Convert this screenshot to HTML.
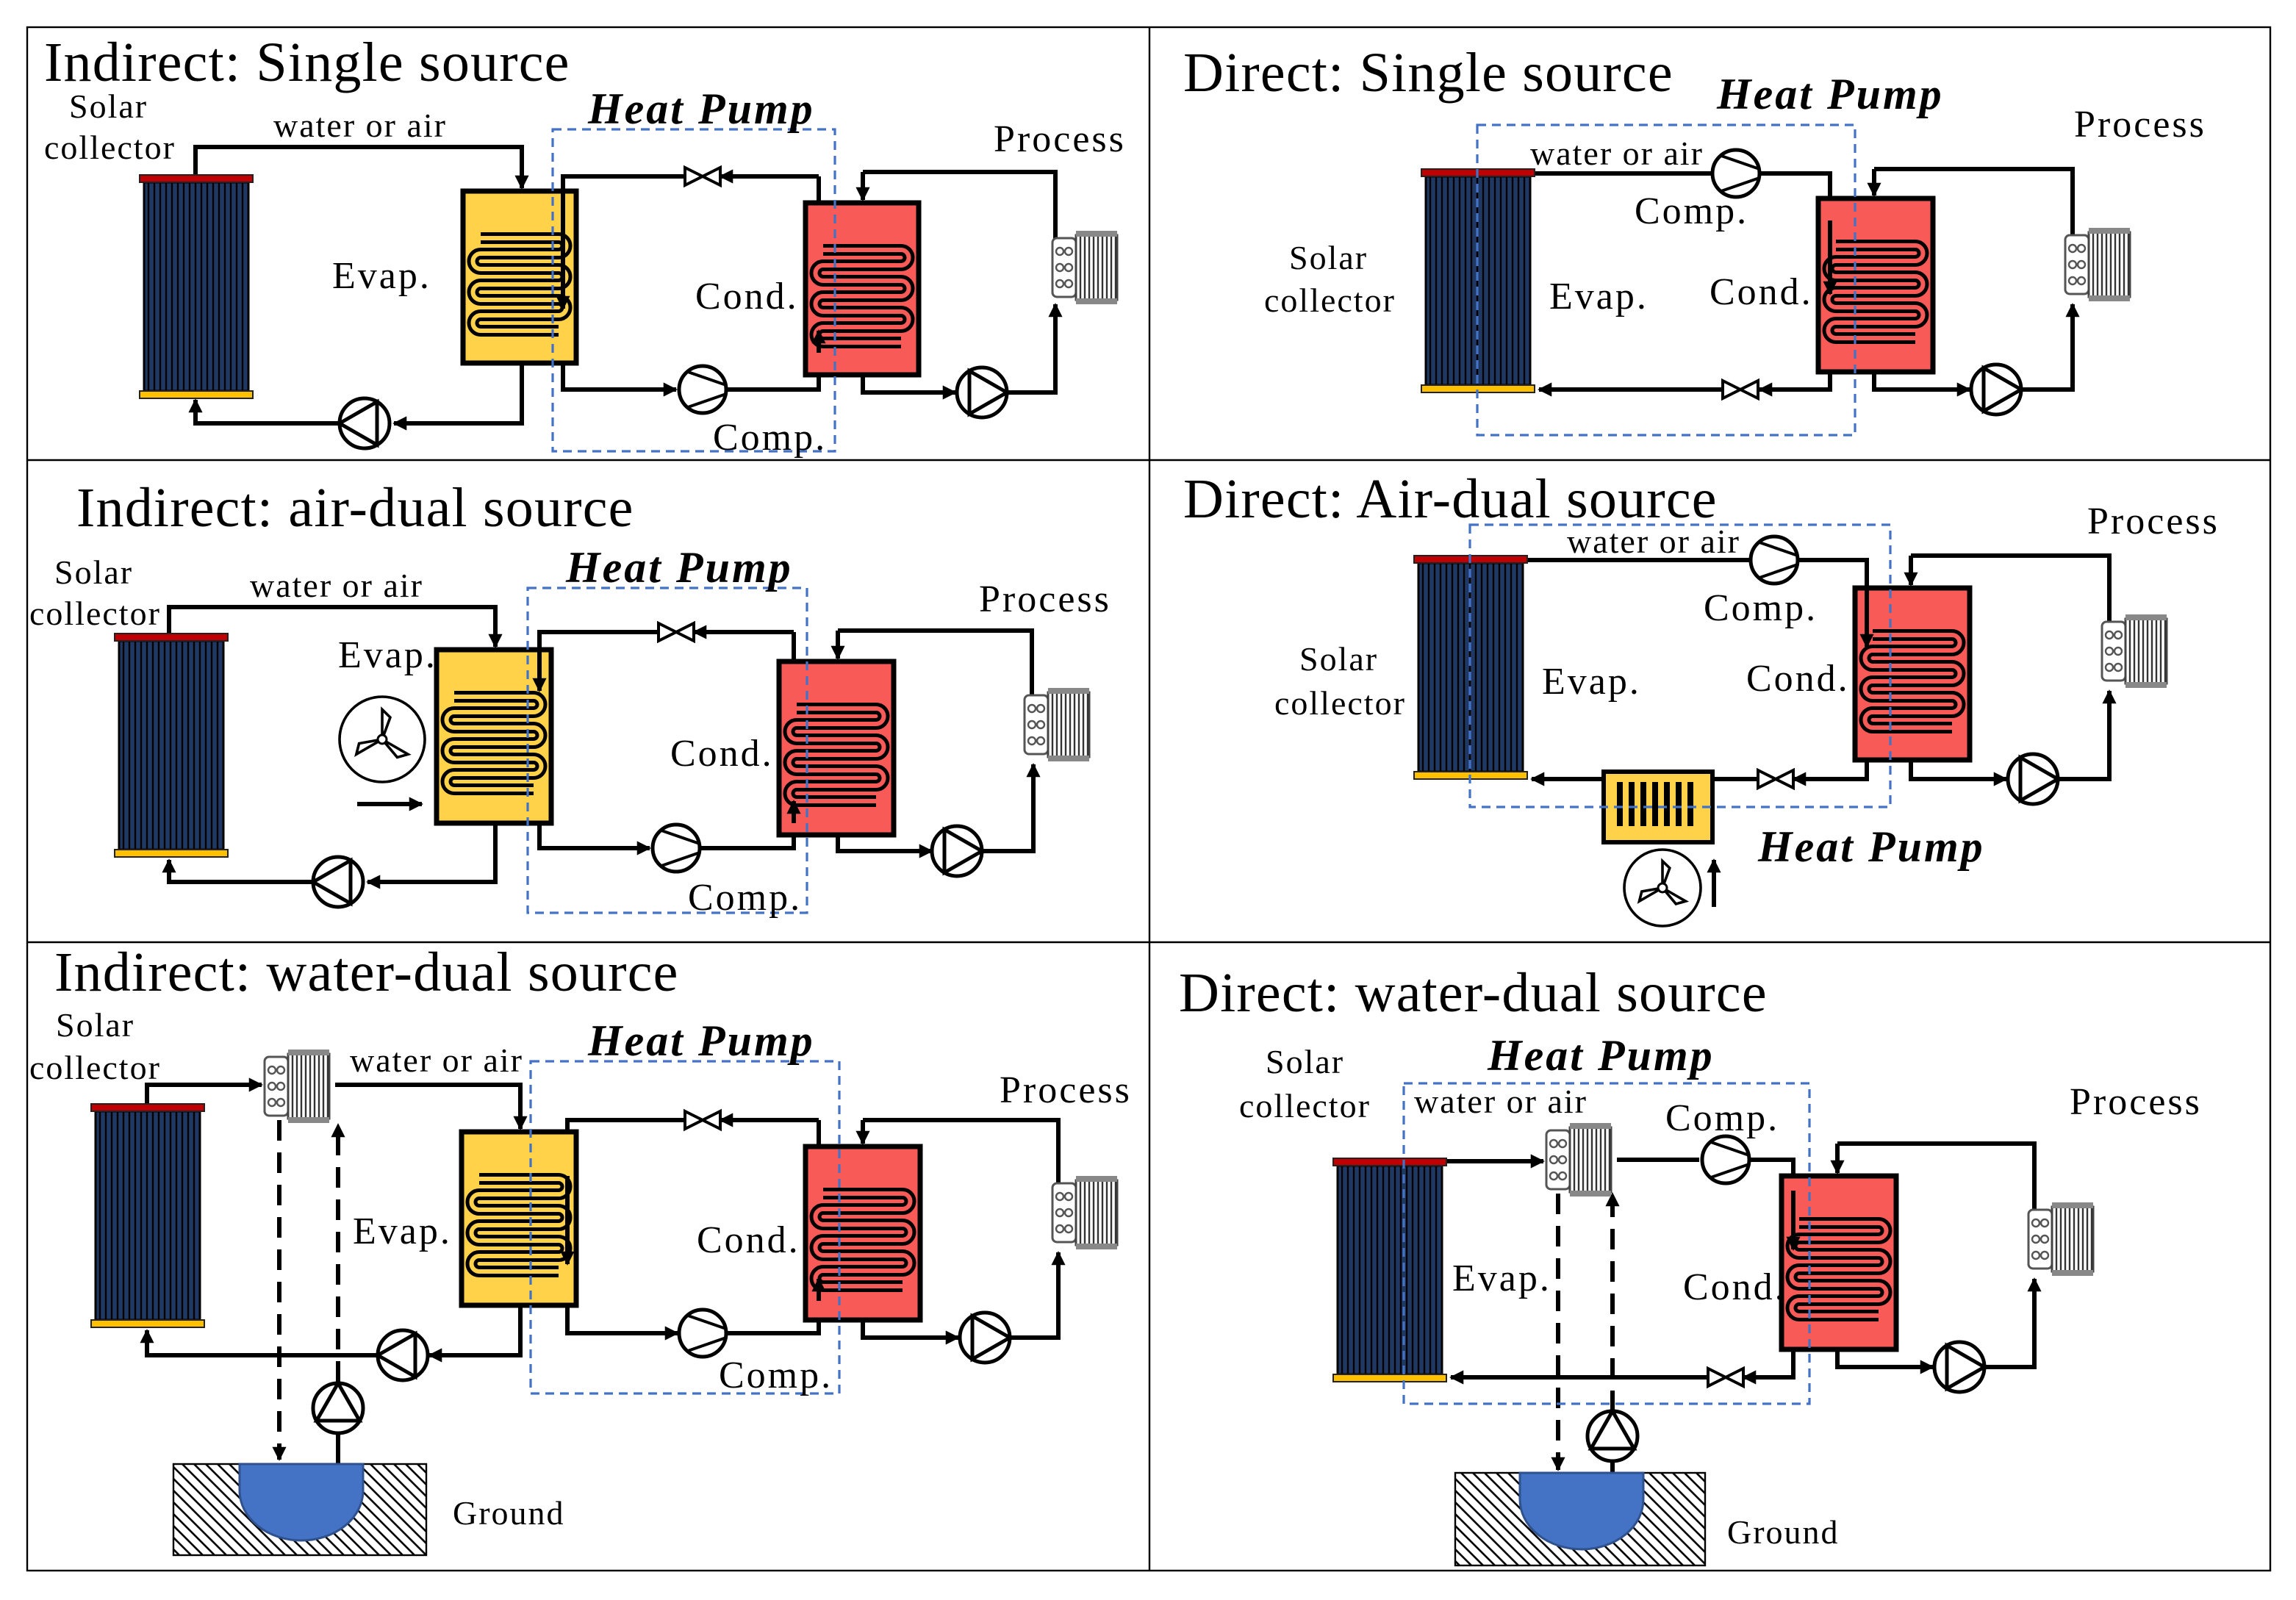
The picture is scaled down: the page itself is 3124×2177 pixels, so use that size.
<!DOCTYPE html>
<html><head><meta charset="utf-8"><style>
html,body{margin:0;padding:0;background:#fff}
svg{display:block}
text{font-family:"Liberation Serif",serif;fill:#000}
.t{font-size:38px;letter-spacing:0.6px}
.l{font-size:23px;letter-spacing:1px}
.m{font-size:26px;letter-spacing:1.5px}
.hp{font-size:30px;font-weight:bold;font-style:italic;letter-spacing:1.5px}
</style></head><body>
<svg id="s" xmlns="http://www.w3.org/2000/svg" width="3124" height="2177" viewBox="0 0 1562 1088.5">
<defs>
<marker id="a" viewBox="0 0 10 10" refX="9" refY="5" markerWidth="3.2" markerHeight="3.2" orient="auto"><path d="M0,0L10,5L0,10z" fill="#000"/></marker>
<pattern id="h" width="8" height="8" patternUnits="userSpaceOnUse"><rect width="8" height="8" fill="#fff"/><path d="M-2,-2L10,10M-2,6L2,10M6,-2L10,2" stroke="#000" stroke-width="1.3"/></pattern>
</defs>
<rect x="0" y="0" width="1562" height="1088.5" fill="#fff"/>
<g fill="none" stroke="#000" stroke-width="1.2">
<rect x="18.5" y="18.5" width="1526" height="1050"/>
<line x1="782" y1="18" x2="782" y2="1069"/>
<line x1="18" y1="313" x2="1545" y2="313"/>
<line x1="18" y1="641" x2="1545" y2="641"/>
</g>
<g id="g"></g>
<!-- Panel 1 -->
<text class="t" x="30" y="55">Indirect: Single source</text>
<text class="l" x="47" y="80">Solar</text><text class="l" x="30" y="108">collector</text>
<text class="l" x="186" y="93">water or air</text>
<text class="hp" x="400" y="84">Heat Pump</text>
<text class="m" x="676" y="103">Process</text>
<text class="m" x="226" y="196">Evap.</text>
<text class="m" x="473" y="210">Cond.</text>
<text class="m" x="485" y="306">Comp.</text>
<!-- Panel 2 -->
<text class="t" x="805" y="62">Direct: Single source</text>
<text class="hp" x="1168" y="74">Heat Pump</text>
<text class="m" x="1411" y="93">Process</text>
<text class="l" x="1041" y="112">water or air</text>
<text class="m" x="1112" y="152">Comp.</text>
<text class="l" x="877" y="183">Solar</text><text class="l" x="860" y="212">collector</text>
<text class="m" x="1054" y="210">Evap.</text>
<text class="m" x="1163" y="207">Cond.</text>
<!-- Panel 3 -->
<text class="t" x="52" y="358">Indirect: air-dual source</text>
<text class="l" x="37" y="397">Solar</text><text class="l" x="20" y="425">collector</text>
<text class="l" x="170" y="406">water or air</text>
<text class="hp" x="385" y="396">Heat Pump</text>
<text class="m" x="666" y="416">Process</text>
<text class="m" x="230" y="454">Evap.</text>
<text class="m" x="456" y="521">Cond.</text>
<text class="m" x="468" y="619">Comp.</text>
<!-- Panel 4 -->
<text class="t" x="805" y="352">Direct: Air-dual source</text>
<text class="l" x="1066" y="376">water or air</text>
<text class="m" x="1420" y="363">Process</text>
<text class="m" x="1159" y="422">Comp.</text>
<text class="l" x="884" y="456">Solar</text><text class="l" x="867" y="486">collector</text>
<text class="m" x="1049" y="472">Evap.</text>
<text class="m" x="1188" y="470">Cond.</text>
<text class="hp" x="1196" y="586">Heat Pump</text>
<!-- Panel 5 -->
<text class="t" x="37" y="674">Indirect: water-dual source</text>
<text class="l" x="38" y="705">Solar</text><text class="l" x="20" y="734">collector</text>
<text class="l" x="238" y="729">water or air</text>
<text class="hp" x="400" y="718">Heat Pump</text>
<text class="m" x="680" y="750">Process</text>
<text class="m" x="240" y="846">Evap.</text>
<text class="m" x="474" y="852">Cond.</text>
<text class="m" x="489" y="944">Comp.</text>
<text class="l" x="308" y="1037">Ground</text>
<!-- Panel 6 -->
<text class="t" x="802" y="688">Direct: water-dual source</text>
<text class="l" x="861" y="730">Solar</text><text class="l" x="843" y="760">collector</text>
<text class="hp" x="1012" y="728">Heat Pump</text>
<text class="l" x="962" y="757">water or air</text>
<text class="m" x="1408" y="758">Process</text>
<text class="m" x="1133" y="769">Comp.</text>
<text class="m" x="988" y="878">Evap.</text>
<text class="m" x="1145" y="884">Cond.</text>
<text class="l" x="1175" y="1050">Ground</text>
</svg>
<script>
var G=document.getElementById('g'),o='';
function P(d,ar,dash){o+='<path d="'+d+'" fill="none" stroke="#000" stroke-width="3"'+(dash?' stroke-dasharray="14 8"':'')+(ar?' marker-end="url(#a)"':'')+'/>';}
function col(x,y){var w=77,h=152;o+='<rect x="'+(x+3)+'" y="'+(y+5)+'" width="'+(w-6)+'" height="'+(h-10)+'" fill="#203864" stroke="#000" stroke-width="1.5"/>';
for(var i=x+6;i<x+w-4;i+=4)o+='<line x1="'+i+'" y1="'+(y+5)+'" x2="'+i+'" y2="'+(y+h-5)+'" stroke="#000" stroke-width="1.2"/>';
o+='<rect x="'+x+'" y="'+y+'" width="'+w+'" height="5" fill="#c00000" stroke="#222" stroke-width="1"/>';
o+='<rect x="'+x+'" y="'+(y+h-5)+'" width="'+w+'" height="5" fill="#ffc000" stroke="#222" stroke-width="1"/>';}
function coil(x1,x2,y0,n,sp,fill){var d='M'+x1+','+y0;for(var i=0;i<n;i++){var y=y0+i*sp;var xa=(i%2==0)?x2:x1;d+=' L'+xa+','+y;if(i<n-1){d+=' A'+sp/2+','+sp/2+' 0 0 '+(i%2==0?1:0)+' '+xa+','+(y+sp);}}
o+='<path d="'+d+'" fill="none" stroke="#000" stroke-width="8"/><path d="'+d+'" fill="none" stroke="'+fill+'" stroke-width="3"/>';}
function box(x,y,w,h,fill){o+='<rect x="'+x+'" y="'+y+'" width="'+w+'" height="'+h+'" fill="'+fill+'" stroke="#000" stroke-width="3.5"/>';coil(x+12,x+w-12,y+32,7,10.5,fill);}
function pump(cx,cy,dir){var r=17;o+='<circle cx="'+cx+'" cy="'+cy+'" r="'+r+'" fill="#fff" stroke="#000" stroke-width="2.5"/>';var p;
if(dir=='r')p=[[cx+r,cy],[cx-r*0.5,cy-r*0.86],[cx-r*0.5,cy+r*0.86]];
if(dir=='l')p=[[cx-r,cy],[cx+r*0.5,cy-r*0.86],[cx+r*0.5,cy+r*0.86]];
if(dir=='u')p=[[cx,cy-r],[cx-r*0.86,cy+r*0.5],[cx+r*0.86,cy+r*0.5]];
o+='<polygon points="'+p.join(' ')+'" fill="none" stroke="#000" stroke-width="2.5"/>';}
function comp(cx,cy){o+='<circle cx="'+cx+'" cy="'+cy+'" r="16" fill="#fff" stroke="#000" stroke-width="2.5"/><path d="M'+(cx-10)+','+(cy-12)+'L'+(cx+16)+','+(cy-3)+'M'+(cx-10)+','+(cy+12)+'L'+(cx+16)+','+(cy+3)+'" stroke="#000" stroke-width="2" fill="none"/>';}
function valve(cx,cy){o+='<path d="M'+(cx-12)+','+(cy-6)+'L'+(cx+12)+','+(cy+6)+'L'+(cx+12)+','+(cy-6)+'L'+(cx-12)+','+(cy+6)+'z" fill="#fff" stroke="#000" stroke-width="2"/>';}
function hx(x,y){o+='<rect x="'+x+'" y="'+(y+5)+'" width="16" height="40" rx="3" fill="#fff" stroke="#555" stroke-width="1.5"/>';
for(var i=0;i<3;i++)o+='<circle cx="'+(x+5)+'" cy="'+(y+14+i*11)+'" r="2.5" fill="none" stroke="#555" stroke-width="1.2"/><circle cx="'+(x+11)+'" cy="'+(y+14+i*11)+'" r="2.5" fill="none" stroke="#555" stroke-width="1.2"/>';
o+='<rect x="'+(x+16)+'" y="'+(y+3)+'" width="28" height="44" fill="#fff" stroke="#444" stroke-width="1.5"/>';
for(var j=x+19;j<x+44;j+=3)o+='<line x1="'+j+'" y1="'+(y+3)+'" x2="'+j+'" y2="'+(y+47)+'" stroke="#333" stroke-width="1.2"/>';
o+='<rect x="'+(x+16)+'" y="'+y+'" width="28" height="4" fill="#888"/><rect x="'+(x+16)+'" y="'+(y+46)+'" width="28" height="4" fill="#888"/>';}
function fan(cx,cy,r){o+='<circle cx="'+cx+'" cy="'+cy+'" r="'+r+'" fill="#fff" stroke="#000" stroke-width="1.8"/>';
for(var k=0;k<3;k++){var a=k*2.094-1.57;var x1=cx+Math.cos(a)*r*0.7,y1=cy+Math.sin(a)*r*0.7,x2=cx+Math.cos(a+0.35)*r*0.55,y2=cy+Math.sin(a+0.35)*r*0.55;o+='<path d="M'+cx+','+cy+'L'+x1+','+y1+'L'+x2+','+y2+'z" fill="none" stroke="#000" stroke-width="1.8"/>';}
o+='<circle cx="'+cx+'" cy="'+cy+'" r="3" fill="#fff" stroke="#000" stroke-width="1.5"/>';}
function ground(x,y,w,h,cx){o+='<rect x="'+x+'" y="'+y+'" width="'+w+'" height="'+h+'" fill="url(#h)" stroke="#000" stroke-width="1.2"/>';
o+='<path d="M'+(cx-42)+','+y+'L'+(cx-42)+','+(y+18)+'A42,34 0 0 0 '+(cx+42)+','+(y+18)+'L'+(cx+42)+','+y+'z" fill="#4472c4" stroke="#2f528f" stroke-width="1.5"/>';}
function db(x1,y1,x2,y2){o+='<rect x="'+x1+'" y="'+y1+'" width="'+(x2-x1)+'" height="'+(y2-y1)+'" fill="none" stroke="#4472c4" stroke-width="1.6" stroke-dasharray="6 4"/>';}

/* Panel 1 */
P('M133,119V100H355V128',1);P('M355,247V288H268',1);P('M231,288H133V272',1);
P('M383,160V120H466');P('M557,120H490',1);P('M557,120V150');P('M383,247V265H460',1);P('M494,265H557V233',1);
P('M587,117V136',1);P('M587,117H718V180');P('M587,255V267H650',1);P('M685,267H718V207',1);
col(95,119);box(315,130,77,117,'#ffd24a');box(548,138,77,117,'#f85a58');
P('M383,120V210',1);P('M557,240V225',1);
pump(248,288,'l');comp(478,265);valve(478,120);pump(668,267,'r');hx(716,157);db(376,88,568,307);
/* Panel 2 */
P('M1044,118H1165');P('M1197,118H1245V165',1);P('M1245,253V265H1197',1);P('M1172,265H1047',1);
P('M1275,115V133',1);P('M1275,115H1410V180');P('M1275,253V265H1340',1);P('M1375,265H1410V207',1);
col(967,115);box(1237,135,78,118,'#f85a58');P('M1245,150V200',1);
comp(1181,118);valve(1184,265);pump(1358,265,'r');hx(1405,155);db(1005,85,1262,296);
/* Panel 3 */
P('M115,431V413H337V440',1);P('M337,560V600H250',1);P('M213,600H115V585',1);
P('M367,470V430H448');P('M540,430H472',1);P('M540,430V470');P('M367,560V577H442',1);P('M477,577H540V545',1);
P('M570,429V448',1);P('M570,429H702V495');P('M570,568V579H634',1);P('M668,579H703V520',1);
col(78,431);box(297,442,78,118,'#ffd24a');box(530,450,78,118,'#f85a58');P('M367,430V470',1);P('M540,560V545',1);
pump(230,600,'l');comp(460,577);valve(460,430);pump(651,579,'r');hx(697,468);fan(260,503,29);P('M243,547H287',1);db(359,400,549,621);
/* Panel 4 */
P('M1039,381H1190');P('M1224,381H1270V430',1);P('M1270,517V530H1220',1);P('M1196,530H1165');P('M1091,530H1042',1);
P('M1300,378V398',1);P('M1300,378H1435V440');P('M1300,517V530H1365',1);P('M1400,530H1435V470',1);
col(962,378);box(1262,400,78,117,'#f85a58');P('M1270,400V440',1);
o+='<rect x="1091" y="525" width="74" height="48" fill="#ffd24a" stroke="#000" stroke-width="3"/>';
for(var i=0;i<7;i++){var xx=1102+i*8;o+='<path d="M'+xx+',532V562" stroke="#000" stroke-width="4" fill="none"/>';}
comp(1207,381);valve(1208,530);pump(1383,530,'r');hx(1430,418);fan(1131,604,26);P('M1166,617V585',1);db(1000,357,1286,549);
/* Panel 5 */
P('M100,751V738H178',1);P('M228,738H354V768',1);P('M354,888V922H292',1);P('M257,922H100V905',1);
P('M386,800V762H466');P('M557,762H490',1);P('M557,762V800');P('M386,888V907H461',1);P('M495,907H557V875',1);
P('M587,762V778',1);P('M587,762H720V825');P('M587,898V910H652',1);P('M687,910H720V852',1);
P('M190,762V993',1,1);P('M230,940V765',1,1);P('M230,996V975');
col(62,751);box(314,770,78,118,'#ffd24a');box(548,780,78,118,'#f85a58');P('M386,800V860',1);P('M557,885V870',1);
hx(180,714);ground(118,996,172,62,205);pump(230,958,'u');pump(274,922,'l');comp(478,907);valve(478,762);pump(670,910,'r');hx(716,800);db(361,722,571,948);
/* Panel 6 */
P('M984,790H1050',1);P('M1100,789H1156');P('M1190,789H1220V830',1);P('M1220,918V937H1186',1);P('M1162,937H987',1);
P('M1250,778V798',1);P('M1250,778H1384V840');P('M1250,918V930H1315',1);P('M1350,930H1384V870',1);
P('M1060,812V1000',1,1);P('M1097,960V812',1,1);P('M1097,1002V994');
col(907,788);box(1212,800,78,118,'#f85a58');P('M1220,810V850',1);
hx(1052,764);ground(990,1002,170,63,1076);pump(1097,977,'u');comp(1174,789);valve(1174,937);pump(1333,930,'r');hx(1380,818);db(955,737,1231,955);
G.innerHTML=o;
</script>
</body></html>
